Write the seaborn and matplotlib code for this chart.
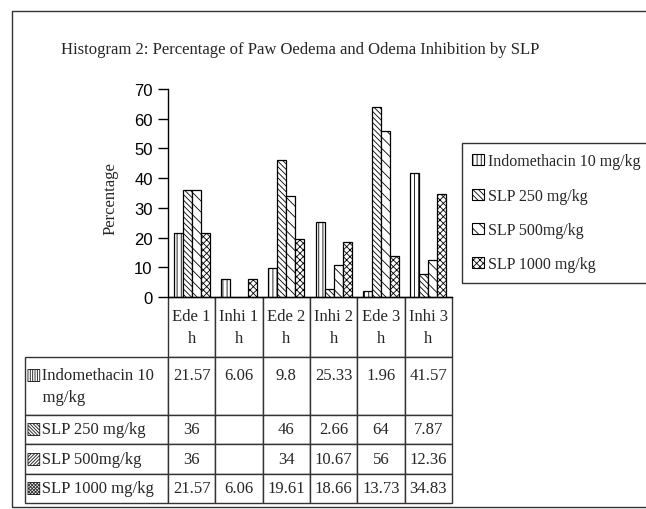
import numpy as np
import pandas as pd
import matplotlib
matplotlib.use("Agg")
import matplotlib.pyplot as plt
from matplotlib.patches import Patch, Rectangle
import seaborn as sns

categories = ["Ede 1 h", "Inhi 1 h", "Ede 2 h", "Inhi 2 h", "Ede 3 h", "Inhi 3 h"]
series_names = ["Indomethacin 10 mg/kg", "SLP 250 mg/kg", "SLP 500mg/kg", "SLP 1000 mg/kg"]
indomethacin = [21.57, 6.06, 9.8, 25.33, 1.96, 41.57]
slp_250 = [36, np.nan, 46, 2.66, 64, 7.87]
slp_500 = [36, np.nan, 34, 10.67, 56, 12.36]
slp_1000 = [21.57, 6.06, 19.61, 18.66, 13.73, 34.83]
table_row_labels = ["\u25a5Indomethacin 10\n    mg/kg", "\u25a7SLP 250 mg/kg",
                    "\u25a8SLP 500mg/kg", "\u25a9SLP 1000 mg/kg"]
header_labels = ["Ede 1\nh", "Inhi 1\nh", "Ede 2\nh", "Inhi 2\nh", "Ede 3\nh", "Inhi 3\nh"]

hatches = ["||||", "\\\\\\\\\\\\", "\\\\\\", "xxxxx"]

sns.set_style("white")
plt.rcParams["font.family"] = ["Liberation Serif", "DejaVu Sans"]
plt.rcParams["hatch.linewidth"] = 0.6

values = [indomethacin, slp_250, slp_500, slp_1000]
df = pd.DataFrame({
    "category": np.repeat([categories], 4, axis=0).ravel(),
    "series": np.repeat(series_names, len(categories)),
    "value": np.concatenate(values),
})

W, H = 646, 510
fig = plt.figure(figsize=(W / 100, H / 100), dpi=100)
ax = fig.add_axes([168 / W, 1 - 298 / H, 284 / W, 208 / H])

sns.barplot(data=df.dropna(), x="category", y="value", hue="series",
            order=categories, hue_order=series_names,
            palette=["white"] * 4, saturation=1, width=0.76,
            edgecolor="black", linewidth=0.9, errorbar=None,
            legend=False, ax=ax)

for cont, h in zip(ax.containers, hatches):
    for bar in cont:
        bar.set_hatch(h)

ax.set_xlim(-0.5, len(categories) - 0.5)
ax.set_ylim(0, 70)
ax.set_yticks(range(0, 71, 10))
ax.set_xticks([])
ax.set_xlabel("")
ax.set_ylabel("Percentage", fontsize=12)
ax.yaxis.set_label_coords(-0.176, 0.476)
ax.tick_params(axis="y", direction="out", length=7, width=1, pad=4,
               labelsize=12, left=True, colors="black")
for lab in ax.get_yticklabels():
    lab.set_fontfamily("Liberation Sans")
for s in ["top", "right"]:
    ax.spines[s].set_visible(False)
for s in ["left", "bottom"]:
    ax.spines[s].set_color("black")
    ax.spines[s].set_linewidth(1)

# data table below the plot
cell_text = [[""] + header_labels]
for lab, vals in zip(table_row_labels, values):
    row = [lab]
    for v in vals:
        txt = "" if np.isnan(v) else f"{v:g}"
        if lab.startswith("\u25a5"):
            txt = txt + "\n "
        row.append(txt)
    cell_text.append(row)

tbl = ax.table(cellText=cell_text, cellLoc="center",
               bbox=[(25 - 168) / 284, -206 / 208, 427 / 284, 206 / 208])
tbl.auto_set_font_size(False)
tbl.set_fontsize(12)
col_w = [143] + [47.33] * 6
row_h = [60, 58, 29, 30, 29]
for (r, c), cell in tbl.get_celld().items():
    cell.set_width(col_w[c])
    cell.set_height(row_h[r])
    cell.set_linewidth(1)
    cell.set_edgecolor("#333333")
    t = cell.get_text()
    t.set_linespacing(1.45)
    if c == 0:
        t.set_ha("left")
        cell.PAD = 0.01
    if r == 0 and c == 0:
        cell.visible_edges = ""

# legend
handles = [Patch(facecolor="white", edgecolor="black", hatch=h, linewidth=0.8)
           for h in hatches]
leg = fig.legend(handles, series_names, loc="upper left",
                 bbox_to_anchor=(462 / W, 1 - 144 / H), borderaxespad=0,
                 fontsize=11.5, frameon=True, fancybox=False, edgecolor="black",
                 handlelength=0.7, handleheight=0.7, handletextpad=0.25,
                 labelspacing=1.15, borderpad=0.65)
leg.get_frame().set_linewidth(1)

# title and chart-area border
fig.text(300 / W, 1 - 50 / H,
         "Histogram 2: Percentage of Paw Oedema and Odema Inhibition by SLP",
         ha="center", va="center", fontsize=12)
fig.patches.append(Rectangle((12 / W, 2 / H), 1.0, 1 - 14 / H,
                             transform=fig.transFigure, fill=False,
                             edgecolor="#333333", linewidth=1))

fig.savefig("out.png", dpi=100)
